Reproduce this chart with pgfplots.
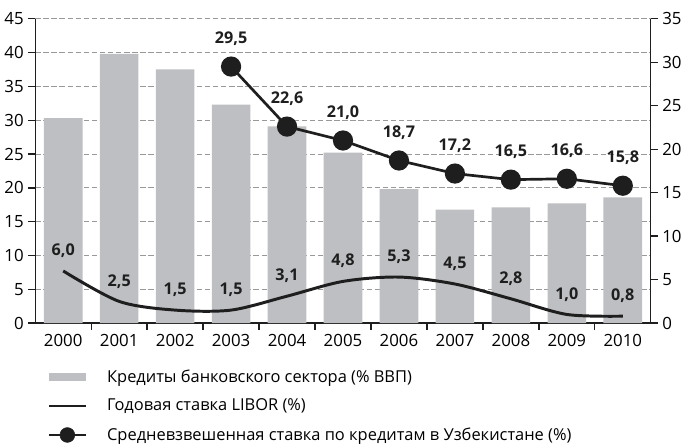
\documentclass[border=0pt]{standalone}
\usepackage{pgfplots}
\pgfplotsset{compat=1.18}
\usepackage{fontspec}
\setmainfont{Open Sans}
\definecolor{barg}{RGB}{190,191,194}
\definecolor{ink}{RGB}{30,30,30}

\begin{document}
\begin{tikzpicture}
\pgfplotsset{
  base/.style={
    scale only axis, width=457pt, height=226pt,
    xmin=-0.5, xmax=10.5,
    font=\fontsize{12.5}{14}\selectfont,
    /pgf/number format/assume math mode=true,
    axis line style={-, line width=1pt, ink},
    tick style={line width=1pt, ink},
    tick align=outside,
    major tick length=5pt,
    minor tick length=5pt,
  },
  lbl/.style={
    nodes near coords={\pgfmathprintnumber[fixed,fixed zerofill,precision=1,use comma,assume math mode=true]{\pgfplotspointmeta}},
    nodes near coords style={font=\bfseries\fontsize{12}{14}\selectfont, text=ink, anchor=center, yshift=#1},
  },
}
\begin{axis}[base,
  ymin=0, ymax=45, ytick={0,5,...,45},
  axis x line*=bottom, axis y line*=left,
  xtick={0,...,10},
  xticklabels={2000,2001,2002,2003,2004,2005,2006,2007,2008,2009,2010},
  major x tick style={draw=none},
  minor xtick={0.5,1.5,...,9.5},
  ymajorgrids, grid style={dash pattern=on 4pt off 2pt, gray!80, line width=0.6pt},
  legend style={at={(0.02,-0.147)}, anchor=north west, draw=none, fill=none,
    inner sep=0pt, nodes={inner sep=1pt},
    font=\fontsize{12.2}{14}\selectfont, row sep=9pt, column sep=14pt},
  legend cell align=left,
]
\addplot[ybar, bar width=0.69, fill=barg, draw=none,
  legend image code/.code={\fill[barg] (0cm,-0.1cm) rectangle (0.95cm,0.1cm);}]
  coordinates {(0,30.3) (1,39.8) (2,37.5) (3,32.3) (4,29.1) (5,25.2)
               (6,19.8) (7,16.8) (8,17.1) (9,17.7) (10,18.6)};
\addlegendentry{Кредиты банковского сектора (\% ВВП)}
\addlegendimage{legend image code/.code={\draw[ink, line width=2pt] (0cm,0cm) -- (0.95cm,0cm);}}
\addlegendentry{Годовая ставка LIBOR (\%)}
\addlegendimage{legend image code/.code={\draw[ink, line width=2pt] (0cm,0cm) -- (0.95cm,0cm);
  \fill[ink] (0.475cm,0cm) circle (5.5pt);}}
\addlegendentry{Средневзвешенная ставка по кредитам в Узбекистане (\%)}
\end{axis}

\begin{axis}[base,
  ymin=0, ymax=35, ytick={0,5,...,35},
  axis y line*=right, axis x line=none,
]
\addplot[smooth, ink, line width=2.2pt, lbl=15pt]
  coordinates {(0,6.0) (1,2.5) (2,1.5) (3,1.5) (4,3.1) (5,4.8)
               (6,5.3) (7,4.5) (8,2.8) (9,1.0) (10,0.8)};
\addplot[ink, line width=2pt, mark=*, mark size=6.5pt, lbl=21pt]
  coordinates {(3,29.5) (4,22.6) (5,21.0) (6,18.7) (7,17.2)
               (8,16.5) (9,16.6) (10,15.8)};
\end{axis}
\path (current bounding box.north) ++(0,6pt);
\end{tikzpicture}
\end{document}
